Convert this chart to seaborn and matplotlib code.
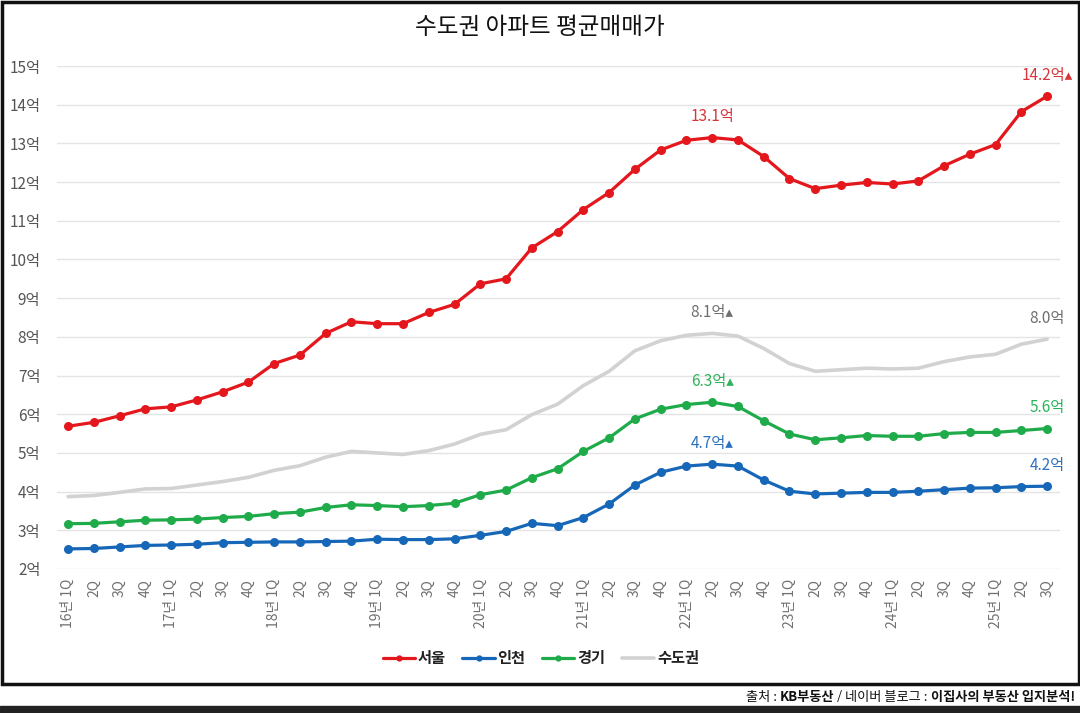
import numpy as np
import pandas as pd
import seaborn as sns
import matplotlib.pyplot as plt
from matplotlib.patches import Rectangle

# quarterly average apartment prices (억 원), 16년 1Q ~ 25년 3Q
seoul = [5.69, 5.79, 5.96, 6.14, 6.19, 6.37, 6.58, 6.83, 7.31, 7.53, 8.09, 8.39, 8.34,
         8.34, 8.63, 8.84, 9.37, 9.50, 10.30, 10.72, 11.29, 11.73, 12.33, 12.83, 13.08,
         13.15, 13.09, 12.66, 12.09, 11.83, 11.92, 11.99, 11.95, 12.03, 12.42, 12.72,
         12.97, 13.82, 14.22]
incheon = [2.52, 2.53, 2.57, 2.61, 2.62, 2.64, 2.68, 2.69, 2.70, 2.70, 2.71, 2.72, 2.77,
           2.76, 2.76, 2.78, 2.87, 2.97, 3.18, 3.12, 3.33, 3.68, 4.17, 4.50, 4.66, 4.71,
           4.66, 4.30, 4.01, 3.94, 3.96, 3.98, 3.98, 4.01, 4.05, 4.09, 4.10, 4.13, 4.14]
gyeonggi = [3.17, 3.18, 3.22, 3.26, 3.27, 3.29, 3.33, 3.36, 3.43, 3.47, 3.59, 3.66, 3.64,
            3.61, 3.64, 3.70, 3.92, 4.04, 4.36, 4.59, 5.04, 5.39, 5.88, 6.13, 6.25, 6.31,
            6.20, 5.83, 5.49, 5.34, 5.39, 5.45, 5.43, 5.43, 5.50, 5.53, 5.53, 5.58, 5.63]
sudogwon = [3.87, 3.90, 3.98, 4.07, 4.08, 4.17, 4.26, 4.37, 4.55, 4.67, 4.89, 5.04, 5.00,
            4.96, 5.06, 5.23, 5.48, 5.60, 5.99, 6.26, 6.74, 7.11, 7.64, 7.90, 8.04, 8.09,
            8.02, 7.70, 7.31, 7.11, 7.15, 7.19, 7.17, 7.19, 7.36, 7.48, 7.55, 7.81, 7.94]

quarters = []
for yr in range(16, 26):
    for q in range(1, 5):
        quarters.append(f"{yr}년 1Q" if q == 1 else f"{q}Q")
quarters = quarters[:39]

y_ticks = list(range(2, 16))
y_labels = [f"{v}억" for v in y_ticks]

# label text per series: (index, text)
peak_labels = {
    "서울": [(25, "13.1억"), (38, "14.2억▴")],
    "수도권": [(25, "8.1억▴"), (38, "8.0억")],
    "경기": [(25, "6.3억▴"), (38, "5.6억")],
    "인천": [(25, "4.7억▴"), (38, "4.2억")],
}

series = {"서울": seoul, "인천": incheon, "경기": gyeonggi, "수도권": sudogwon}
line_colors = {"서울": "#e3171c", "인천": "#1767b8", "경기": "#1fab4a", "수도권": "#d2d2d2"}
text_colors = {"서울": "#d8343a", "인천": "#2b72bd", "경기": "#2eb35b", "수도권": "#6f6f6f"}

df = pd.DataFrame({"idx": np.arange(len(quarters))})
for name, vals in series.items():
    df[name] = vals

sns.set_style("white")
plt.rcParams['font.family'] = ['Noto Sans CJK KR', 'DejaVu Sans']

fig = plt.figure(figsize=(10.8, 7.13), dpi=100)
W, H = 1080, 713
ax = fig.add_axes([57 / W, (H - 569) / H, (1060 - 57) / W, (569 - 66) / H])

# draw grey first so it sits behind
for name in ["수도권", "경기", "인천", "서울"]:
    is_total = name == "수도권"
    sns.lineplot(data=df, x="idx", y=name, ax=ax, color=line_colors[name],
                 linewidth=2.6 if is_total else 2.3,
                 marker=None if is_total else "o",
                 markersize=6.5, markeredgewidth=0, label=name, zorder=3)

for name, items in peak_labels.items():
    for i, txt in items:
        ax.annotate(txt, xy=(i, series[name][i]), xytext=(0, 15), textcoords="offset points",
                    ha="center", va="center", fontsize=11, color=text_colors[name])

ax.set_xlim(-0.43, 38.5)
ax.set_ylim(2, 15)
ax.set_yticks(y_ticks)
ax.set_yticklabels(y_labels)
ax.set_xticks(df["idx"])
ax.set_xticklabels(quarters, rotation=90, va="top", ha="center")
ax.tick_params(axis="y", length=0, pad=12, labelsize=11, labelcolor="#555555")
ax.tick_params(axis="x", length=0, pad=7, labelsize=10, labelcolor="#707070")
ax.set_xlabel("")
ax.set_ylabel("")
ax.grid(axis="y", color="#e4e4e4", linewidth=1)
ax.grid(axis="x", visible=False)
sns.despine(ax=ax, left=True, bottom=True)

# legend in 서울, 인천, 경기, 수도권 order
handles, labels = ax.get_legend_handles_labels()
order = [labels.index(n) for n in ["서울", "인천", "경기", "수도권"]]
leg = ax.legend([handles[k] for k in order], [labels[k] for k in order],
                loc="center", bbox_to_anchor=(541 / W, (H - 658) / H),
                bbox_transform=fig.transFigure, ncol=4, frameon=False,
                handlelength=2.1, columnspacing=1.1, handletextpad=0.2,
                markerscale=0.7, prop={"weight": "bold", "size": 11})
for t in leg.get_texts():
    t.set_color("#222222")

fig.text(0.5, (H - 28) / H, "수도권 아파트 평균매매가", ha="center", va="center",
         fontsize=17, fontweight="medium", color="#111111")

# frame around the chart and bottom strip
fig.patches.append(Rectangle((1.5 / W, (H - 683.5) / H), (W - 3) / W, 682 / H,
                             transform=fig.transFigure, fill=False,
                             edgecolor="#111111", linewidth=2.5))
fig.patches.append(Rectangle((0, 0), 1, 7 / H, transform=fig.transFigure,
                             color="#222222"))

# source line, mixed weights, right aligned
parts = [("이집사의 부동산 입지분석!", "bold"), ("네이버 블로그 : ", "normal"),
         (" / ", "normal"), ("KB부동산", "bold"), ("출처 : ", "normal")]
fig.canvas.draw()
renderer = fig.canvas.get_renderer()
x_right = 1075 / W
for txt, wt in parts:
    t = fig.text(x_right, (H - 697) / H, txt, ha="right", va="center",
                 fontsize=9.5, fontweight=wt, color="#111111")
    bb = t.get_window_extent(renderer=renderer)
    x_right -= bb.width / W

fig.savefig("out.png", dpi=100)
